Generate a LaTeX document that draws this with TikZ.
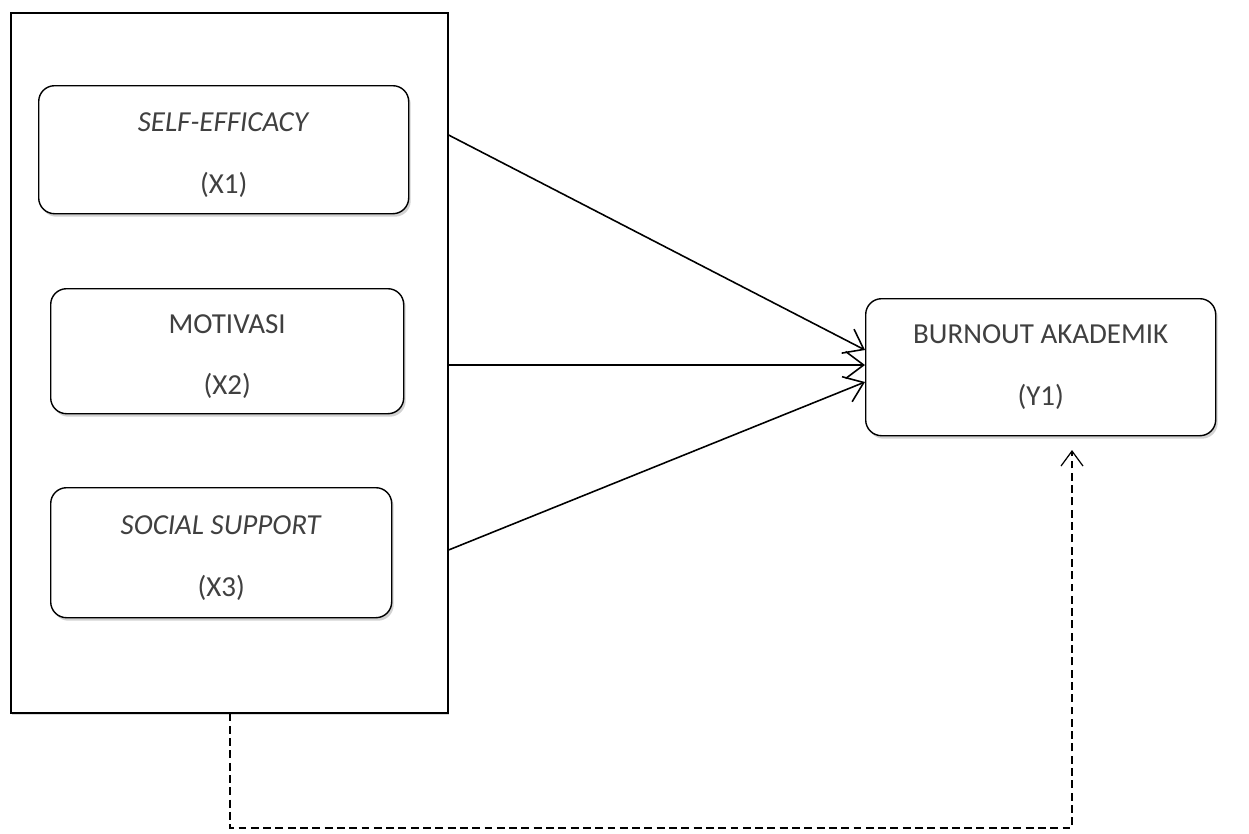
\documentclass[tikz,border=0pt]{standalone}
\usepackage{fontspec}
\setmainfont{Carlito}
\usepackage{tikz}
\usetikzlibrary{arrows.meta,shadows}
\definecolor{Ink}{HTML}{404040}

\begin{document}
\begin{tikzpicture}[x=0.02cm,y=-0.02cm,
  var/.style={draw,rounded corners=9pt,line width=0.8pt,fill=white,
    drop shadow={shadow xshift=0.4mm,shadow yshift=-0.6mm,opacity=0.35},
    text=Ink,align=center,font=\fontsize{16.5}{35}\selectfont,anchor=north west},
  path/.style={line width=0.9pt,-{Straight Barb[length=3.6mm,width=5.4mm]}},
  link/.style={dash pattern=on 4.5pt off 2.5pt,line width=0.7pt,-{Straight Barb[length=3mm,width=4.4mm]}}]
\useasboundingbox (0,0) rectangle (1249,833);
% Frame
\node (frame) [draw,line width=0.9pt,minimum width=437*0.02cm,minimum height=700*0.02cm,
  anchor=north west,drop shadow={shadow xshift=0.3mm,shadow yshift=-0.5mm,opacity=0.3},fill=white] at (10,12) {};
% Independent variables
\node (x1) [var,minimum width=370*0.02cm,minimum height=128*0.02cm] at (38,85) {\rule{0pt}{6mm}\textit{SELF-EFFICACY}\\(X1)};
\node (x2) [var,minimum width=353*0.02cm,minimum height=125*0.02cm] at (50,288) {\rule{0pt}{6mm}MOTIVASI\\(X2)};
\node (x3) [var,minimum width=341*0.02cm,minimum height=130*0.02cm] at (50,487) {\rule{0pt}{6mm}\textit{SOCIAL SUPPORT}\\(X3)};
% Dependent variable
\node (y1) [var,minimum width=350*0.02cm,minimum height=137*0.02cm] at (865,298) {BURNOUT AKADEMIK\\(Y1)};
% Paths
\coordinate (a1) at (frame.east |- 0,135);
\coordinate (a2) at (frame.east |- 0,365);
\coordinate (a3) at (frame.east |- 0,550);
\draw [path] (a1) -- (y1.west |- 0,350);
\draw [path] (a2) -- (y1.west |- 0,365);
\draw [path] (a3) -- (y1.west |- 0,382);
% Simultaneous effect
\coordinate (s) at (230,0 |- frame.south);
\coordinate (t) at (1072,450);
\draw [link] (s) -- (230,828) -- (1072,828) -- (t);
\end{tikzpicture}
\end{document}
